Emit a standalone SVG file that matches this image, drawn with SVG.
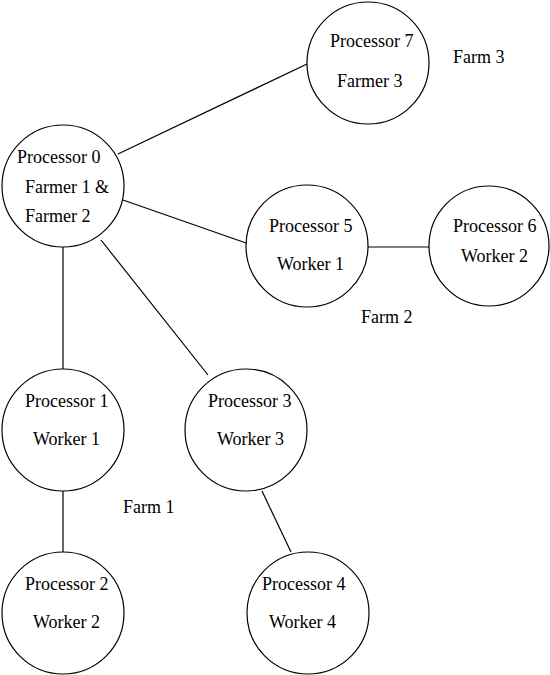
<svg xmlns="http://www.w3.org/2000/svg" width="550" height="675" viewBox="0 0 550 675">
<style>
circle{fill:#fff;stroke:#000;stroke-width:1.2}
line{stroke:#000;stroke-width:1.2}
text{font-family:"Liberation Serif","Times New Roman",serif;font-size:18px;fill:#000}
</style>
<rect width="550" height="675" fill="#fff"/>
<g id="connectors">
<line x1="118" y1="154" x2="307" y2="64"/>
<line x1="123" y1="200" x2="246" y2="243"/>
<line x1="101" y1="240" x2="208" y2="375"/>
<line x1="63" y1="247" x2="63" y2="369"/>
<line x1="63" y1="491" x2="63" y2="552"/>
<line x1="262" y1="491" x2="291" y2="552"/>
<line x1="368" y1="247" x2="429" y2="247"/>
</g>
<g id="p7"><circle cx="368" cy="63" r="61"/><text x="330" y="47">Processor 7</text><text x="337" y="87">Farmer 3</text></g>
<g id="p0"><circle cx="63" cy="186" r="61"/><text x="17" y="163">Processor 0</text><text x="25" y="193">Farmer 1 &amp;</text><text x="25" y="222">Farmer 2</text></g>
<g id="p5"><circle cx="307" cy="246" r="61"/><text x="269" y="232">Processor 5</text><text x="277" y="270">Worker 1</text></g>
<g id="p6"><circle cx="489" cy="246" r="60"/><text x="453" y="232">Processor 6</text><text x="461" y="262">Worker 2</text></g>
<g id="p1"><circle cx="63" cy="430" r="61"/><text x="25" y="407">Processor 1</text><text x="33" y="445">Worker 1</text></g>
<g id="p3"><circle cx="246" cy="430" r="61"/><text x="208" y="407">Processor 3</text><text x="217" y="445">Worker 3</text></g>
<g id="p2"><circle cx="63" cy="613" r="61"/><text x="25" y="590">Processor 2</text><text x="33" y="628">Worker 2</text></g>
<g id="p4"><circle cx="308" cy="613" r="61"/><text x="262" y="590">Processor 4</text><text x="269" y="628">Worker 4</text></g>
<g id="labels"><text x="453" y="63">Farm 3</text><text x="361" y="323">Farm 2</text><text x="123" y="513">Farm 1</text></g>
</svg>
